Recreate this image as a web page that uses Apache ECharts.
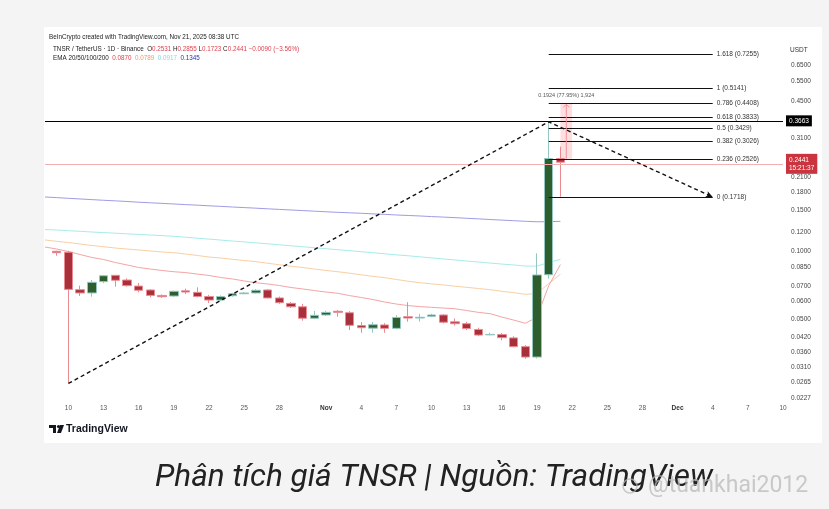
<!DOCTYPE html>
<html><head><meta charset="utf-8">
<script src="https://cdn.jsdelivr.net/npm/echarts@6/dist/echarts.min.js"></script>
<style>html,body{margin:0;padding:0;background:#f4f4f4}#c{width:829px;height:509px}</style>
</head><body><div id="c"></div>
<script>
// ---- categories (daily, Oct 8 .. Dec 10, 2025) ----
const categories = [
 '10-08','10-09','10-10','10-11','10-12','10-13','10-14','10-15','10-16','10-17','10-18','10-19','10-20','10-21','10-22','10-23','10-24','10-25','10-26','10-27','10-28','10-29','10-30','10-31',
 '11-01','11-02','11-03','11-04','11-05','11-06','11-07','11-08','11-09','11-10','11-11','11-12','11-13','11-14','11-15','11-16','11-17','11-18','11-19','11-20','11-21','11-22','11-23','11-24','11-25','11-26','11-27','11-28','11-29','11-30',
 '12-01','12-02','12-03','12-04','12-05','12-06','12-07','12-08','12-09','12-10'];
const tickDates = ['10-10','10-13','10-16','10-19','10-22','10-25','10-28','11-01','11-04','11-07','11-10','11-13','11-16','11-19','11-22','11-25','11-28','12-01','12-04','12-07','12-10'];
const tickTexts = ['10','13','16','19','22','25','28','Nov','4','7','10','13','16','19','22','25','28','Dec','4','7','10'];
const yTicks = [0.65,0.55,0.45,0.31,0.21,0.18,0.15,0.12,0.10,0.085,0.07,0.06,0.05,0.042,0.036,0.031,0.0265,0.0227];

// ---- candles Oct 9 .. Nov 21 ----
const candleDates = categories.slice(1,45);
const opens  = [0.0995,0.0986,0.0676,0.0654,0.0733,0.0781,0.0745,0.0701,0.0674,0.0638,0.0634,0.0668,0.0658,0.0631,0.0609,0.0636,0.0649,0.0654,0.0674,0.0622,0.0589,0.0569,0.0507,0.0524,0.0544,0.0536,0.0471,0.0459,0.0474,0.0458,0.0515,0.0508,0.0517,0.0524,0.0489,0.0480,0.0453,0.0429,0.0430,0.0416,0.0381,0.0343,0.0786,0.2531];
const highs  = [0.1000,0.1000,0.0704,0.0745,0.0784,0.0784,0.0758,0.0723,0.0680,0.0644,0.0670,0.0683,0.0692,0.0641,0.0638,0.0655,0.0660,0.0680,0.0680,0.0631,0.0597,0.0586,0.0546,0.0547,0.0551,0.0545,0.0488,0.0488,0.0483,0.0523,0.0596,0.0530,0.0530,0.0529,0.0506,0.0489,0.0461,0.0438,0.0437,0.0423,0.0387,0.0975,0.3663,0.2855];
const lows   = [0.0951,0.0263,0.0634,0.0630,0.0721,0.0697,0.0697,0.0658,0.0626,0.0622,0.0628,0.0647,0.0626,0.0591,0.0603,0.0630,0.0646,0.0651,0.0619,0.0586,0.0562,0.0495,0.0503,0.0519,0.0515,0.0450,0.0438,0.0438,0.0438,0.0453,0.0490,0.0490,0.0512,0.0481,0.0471,0.0450,0.0423,0.0427,0.0406,0.0378,0.0337,0.0338,0.0756,0.1723];
const closes = [0.0981,0.0678,0.0654,0.0728,0.0778,0.0743,0.0704,0.0672,0.0638,0.0630,0.0665,0.0660,0.0631,0.0609,0.0631,0.0649,0.0654,0.0672,0.0622,0.0593,0.0569,0.0507,0.0522,0.0538,0.0538,0.0472,0.0461,0.0475,0.0458,0.0511,0.0508,0.0512,0.0524,0.0487,0.0480,0.0457,0.0428,0.0431,0.0417,0.0381,0.0343,0.0784,0.2531,0.2441];

// ---- EMAs Oct 8 .. Nov 21 ----
const emaDates = categories.slice(0,45);
const ema20  = [0.1039,0.1018,0.0993,0.0963,0.0935,0.0916,0.0889,0.0867,0.0845,0.0832,0.0820,0.0810,0.0803,0.0791,0.0780,0.0764,0.0753,0.0738,0.0725,0.0716,0.0705,0.0691,0.0681,0.0670,0.0660,0.0652,0.0637,0.0625,0.0612,0.0597,0.0585,0.0576,0.0570,0.0566,0.0562,0.0558,0.0548,0.0538,0.0531,0.0513,0.0498,0.0482,0.0512,0.0704,0.0870];
const ema50  = [0.1115,0.1100,0.1087,0.1071,0.1055,0.1042,0.1028,0.1018,0.1008,0.0998,0.0988,0.0981,0.0968,0.0954,0.0939,0.0930,0.0918,0.0907,0.0896,0.0882,0.0869,0.0856,0.0845,0.0832,0.0820,0.0810,0.0798,0.0785,0.0773,0.0763,0.0749,0.0736,0.0725,0.0717,0.0709,0.0700,0.0692,0.0684,0.0676,0.0665,0.0656,0.0645,0.0650,0.0719,0.0789];
const ema100 = [0.1239,0.1233,0.1224,0.1217,0.1208,0.1201,0.1194,0.1186,0.1179,0.1172,0.1165,0.1157,0.1147,0.1135,0.1125,0.1114,0.1103,0.1094,0.1083,0.1073,0.1062,0.1052,0.1042,0.1031,0.1021,0.1011,0.1001,0.0991,0.0981,0.0970,0.0960,0.0951,0.0941,0.0931,0.0921,0.0912,0.0902,0.0893,0.0884,0.0875,0.0867,0.0858,0.0857,0.0890,0.0917];
const ema200 = [0.1719,0.1708,0.1696,0.1685,0.1674,0.1663,0.1653,0.1643,0.1631,0.1621,0.1612,0.1602,0.1592,0.1583,0.1573,0.1564,0.1554,0.1545,0.1536,0.1526,0.1517,0.1508,0.1499,0.1490,0.1481,0.1473,0.1466,0.1459,0.1450,0.1443,0.1434,0.1427,0.1420,0.1411,0.1404,0.1396,0.1387,0.1379,0.1370,0.1362,0.1354,0.1346,0.1339,0.1341,0.1345];

// ---- drawings ----
const trendDates = ['10-10','11-20','12-04'];
const trendValues = [0.0263,0.3663,0.1718];
const fibRatios = ['1.618','1','0.786','0.618','0.5','0.382','0.236','0'];
const fibValues = [0.7255,0.5141,0.4408,0.3833,0.3429,0.3026,0.2526,0.1718];
const fibStart = '11-20', fibEnd = '12-04';
const hLineValue = 0.3663;
const lastPrice = 0.2441, lastTime = '15:21:37';
const measureDates = ['11-21','11-22'];
const measureFrom = 0.2526, measureTo = 0.4408;
const measureText = '0.1924 (77.95%) 1,924';
const yMin = 0.0216, yMax = 0.835;

const FONT = 'Liberation Sans';
const chart = echarts.init(document.getElementById('c'), null, {renderer:'canvas'});

const trendData = trendDates.map((d,i)=> i===trendDates.length-1
  ? {value:[d,trendValues[i]], symbol:'arrow', symbolSize:[5,7], symbolRotate:-114, itemStyle:{color:'#111'}}
  : {value:[d,trendValues[i]], symbol:'none'});

const fibLines = fibRatios.map((r,i)=>[
  {coord:[fibStart, fibValues[i]], label:{formatter: r+' ('+fibValues[i].toFixed(4)+')'}},
  {coord:[fibEnd, fibValues[i]]}
]);

const i0 = categories.indexOf(measureDates[0]), i1 = categories.indexOf(measureDates[1]);

const option = {
  backgroundColor:'#ffffff',
  animation:false,
  textStyle:{fontFamily:FONT},
  grid:{left:45,right:46,top:40,bottom:106},
  xAxis:{type:'category',data:categories,boundaryGap:false,
    axisLine:{show:false},axisTick:{show:false},splitLine:{show:false},
    axisLabel:{interval:(i,v)=>tickDates.indexOf(v)>=0,
      formatter:v=>{const t=tickTexts[tickDates.indexOf(v)];return (t==='Nov'||t==='Dec')?'{b|'+t+'}':t;},
      fontSize:6.5,color:'#555',margin:2,fontFamily:FONT,
      rich:{b:{fontWeight:'bold',fontSize:6.5,color:'#333',fontFamily:FONT}}}},
  yAxis:{type:'log',position:'right',min:yMin,max:yMax,
    axisLine:{show:false},axisTick:{show:false},splitLine:{show:false},
    axisLabel:{customValues:yTicks,formatter:v=>Number(v).toFixed(4),fontSize:6.5,color:'#444',margin:8,fontFamily:FONT}},
  series:[
    {name:'EMA200',type:'line',data:emaDates.map((d,i)=>[d,ema200[i]]),symbol:'none',lineStyle:{color:'#9d9ce6',width:1},z:2},
    {name:'EMA100',type:'line',data:emaDates.map((d,i)=>[d,ema100[i]]),symbol:'none',lineStyle:{color:'#a6ecea',width:1},z:2},
    {name:'EMA50',type:'line',data:emaDates.map((d,i)=>[d,ema50[i]]),symbol:'none',lineStyle:{color:'#f9cfa4',width:1},z:2},
    {name:'EMA20',type:'line',data:emaDates.map((d,i)=>[d,ema20[i]]),symbol:'none',lineStyle:{color:'#f3a5a5',width:1},z:2},
    {name:'TNSR',type:'candlestick',data:candleDates.map((d,i)=>[d,opens[i],closes[i],lows[i],highs[i]]),
      encode:{x:0,y:[1,2,3,4]},barWidth:9,
      itemStyle:{color:'#2e5e2d',color0:'#a8303b',borderColor:'#93c8c2',borderColor0:'#ec8a92',borderWidth:1},z:4,
      markArea:{silent:true,itemStyle:{color:'rgba(242,54,69,0.16)'},
        label:{show:true,position:'top',formatter:measureText,fontSize:5.5,color:'#555',distance:5,fontFamily:FONT},
        data:[[{coord:[measureDates[0],measureTo]},{coord:[measureDates[1],measureFrom]}]]}},
    {name:'trend',type:'line',data:trendData,lineStyle:{color:'#111',width:1.4,type:[4,3]},z:6,
      markLine:{silent:true,symbol:'none',animation:false,
        lineStyle:{color:'#111',width:1.2,type:'solid'},
        label:{position:'end',fontSize:6.5,color:'#333',distance:4,fontFamily:FONT},
        data:fibLines.concat([
          {yAxis:hLineValue,lineStyle:{color:'#000',width:1.2,type:'solid'},
           label:{position:'end',formatter:hLineValue.toFixed(4),backgroundColor:'#000',color:'#fff',padding:[2,3],fontSize:6.5,distance:3}},
          {yAxis:lastPrice,lineStyle:{color:'#f4b0b0',width:1,type:'solid'},
           label:{position:'end',formatter:lastPrice.toFixed(4)+'\n'+lastTime,backgroundColor:'#c9343f',color:'#fff',padding:[2,3],lineHeight:8,fontSize:6.5,distance:3}}
        ])}},
    {name:'measure',type:'custom',data:[[i0,measureFrom]],z:5,
      renderItem:(params,api)=>{
        const a=api.coord([i0,measureFrom]), b=api.coord([i1,measureTo]);
        const x=(a[0]+b[0])/2;
        return {type:'group',children:[
          {type:'line',shape:{x1:x,y1:a[1],x2:x,y2:b[1]+1},style:{stroke:'#f0939a',lineWidth:1}},
          {type:'polyline',shape:{points:[[x-3,b[1]+4],[x,b[1]+1],[x+3,b[1]+4]]},style:{stroke:'#f0939a',fill:null,lineWidth:1}}
        ]};
      }}
  ],
  graphic:[
    {type:'rect',shape:{x:0,y:0,width:829,height:27},style:{fill:'#f4f4f4'},z:0},
    {type:'rect',shape:{x:0,y:0,width:44,height:509},style:{fill:'#f4f4f4'},z:0},
    {type:'rect',shape:{x:822,y:0,width:7,height:509},style:{fill:'#f4f4f4'},z:0},
    {type:'rect',shape:{x:0,y:443,width:829,height:66},style:{fill:'#f4f4f4'},z:0},
    {type:'text',x:49,y:37,style:{text:'BeInCrypto created with TradingView.com, Nov 21, 2025 08:38 UTC',fontSize:6.3,fill:'#222',fontFamily:FONT,verticalAlign:'middle'}},
    {type:'text',x:53,y:49,style:{text:'{d|TNSR / TetherUS · 1D · Binance}  {d|O}{r|0.2531} {d|H}{r|0.2855} {d|L}{r|0.1723} {d|C}{r|0.2441} {r|−0.0090 (−3.56%)}',
      fontSize:6.3,fontFamily:FONT,verticalAlign:'middle',
      rich:{d:{fill:'#222',fontSize:6.3,fontFamily:FONT},r:{fill:'#e0414f',fontSize:6.3,fontFamily:FONT}}}},
    {type:'text',x:53,y:58,style:{text:'{d|EMA 20/50/100/200}  {a|0.0870}  {b|0.0789}  {c|0.0917}  {e|0.1345}',
      fontSize:6.3,fontFamily:FONT,verticalAlign:'middle',
      rich:{d:{fill:'#222',fontSize:6.3,fontFamily:FONT},a:{fill:'#e23b4a',fontSize:6.3},b:{fill:'#f29a63',fontSize:6.3},c:{fill:'#7fdcdc',fontSize:6.3},e:{fill:'#2f2fa8',fontSize:6.3}}}},
    {type:'text',x:790,y:50,style:{text:'USDT',fontSize:6.5,fill:'#333',fontFamily:FONT,verticalAlign:'middle'}},
    {type:'polygon',shape:{points:[[49,425],[56,425],[56,433],[53,433],[53,428],[49,428]]},style:{fill:'#131722'}},
    {type:'circle',shape:{cx:58.5,cy:426.5,r:1.6},style:{fill:'#131722'}},
    {type:'polygon',shape:{points:[[60,425],[64,425],[61,433],[57,433]]},style:{fill:'#131722'}},
    {type:'text',x:66,y:429,style:{text:'TradingView',fontSize:10.5,fontWeight:'bold',fill:'#131722',fontFamily:FONT,verticalAlign:'middle'}},
    {type:'text',x:434,y:478,style:{text:'Phân tích giá TNSR | Nguồn: TradingView',fontSize:31.5,fontStyle:'italic',fill:'#222',fontFamily:'Roboto',align:'center',verticalAlign:'middle'},z:10},
    {type:'text',x:648,y:486,style:{text:'@tuankhai2012',fontSize:23,fill:'rgba(185,185,185,0.75)',fontFamily:'Roboto',verticalAlign:'middle'},z:11},
    {type:'circle',shape:{cx:630,cy:486,r:7},style:{fill:'none',stroke:'rgba(185,185,185,0.75)',lineWidth:1.5},z:11}
  ]
};
chart.setOption(option);
</script></body></html>
